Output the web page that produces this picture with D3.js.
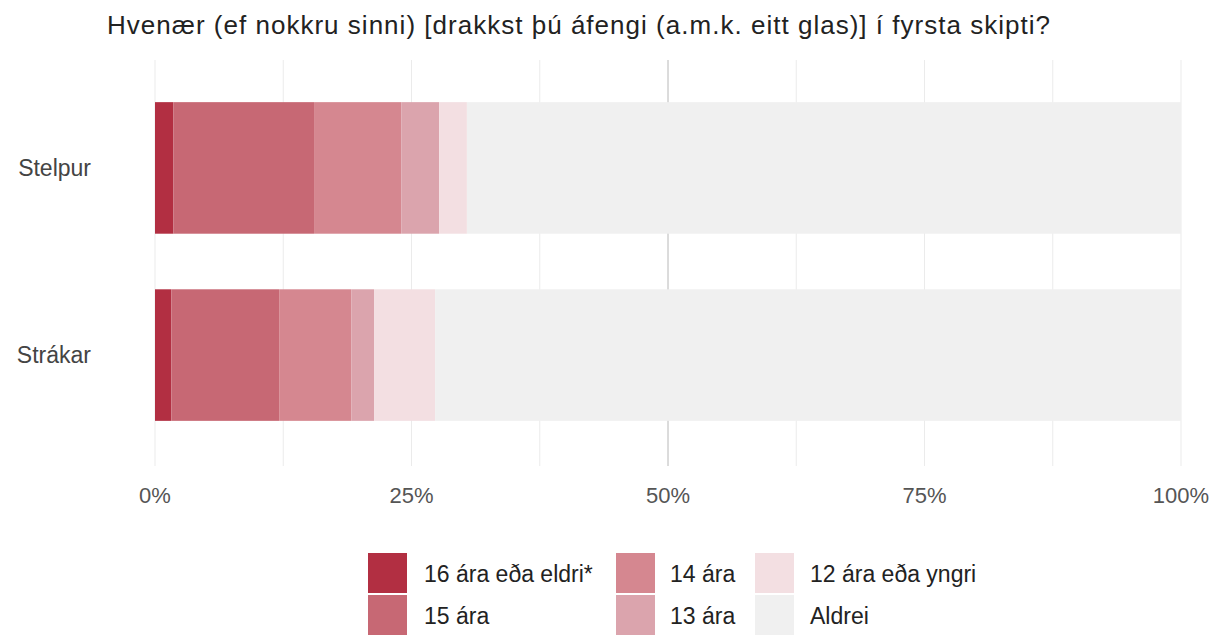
<!DOCTYPE html>
<html lang="is">
<head>
<meta charset="utf-8">
<script src="https://d3js.org/d3.v7.min.js"></script>
<style>
  body { margin: 0; background: #fff; }
  text { font-family: "Liberation Sans", Arial, sans-serif; }
</style>
</head>
<body>
<script>
// data (percent of each group)
var groups = ["Stelpur", "Strákar"];
var answers = ["16 ára eða eldri*", "15 ára", "14 ára", "13 ára", "12 ára eða yngri", "Aldrei"];
var stelpur = [1.8, 13.7, 8.5, 3.7, 2.7, 69.6];
var strakar = [1.6, 10.5, 7.05, 2.2, 5.95, 72.7];
var colors = ["#b22f42", "#c76874", "#d58790", "#dba4ad", "#f3dfe2", "#f0f0f0"];
var ticks = [0, 25, 50, 75, 100];

var title = "Hvenær (ef nokkru sinni) [drakkst þú áfengi (a.m.k. eitt glas)] í fyrsta skipti?";

var W = 1217, H = 637;
var svg = d3.select("body").append("svg")
    .attr("width", W)
    .attr("height", H);

var rows = groups.map(function(g, i) {
    var r = { group: g };
    var vals = i == 0 ? stelpur : strakar;
    answers.forEach(function(a, j) { r[a] = vals[j]; });
    return r;
});

var x = d3.scaleLinear().domain([0, 100]).range([155, 1181]);
var y = d3.scaleBand().domain(groups).range([46, 477]).paddingInner(0.297).paddingOuter(0.3);
var color = d3.scaleOrdinal().domain(answers).range(colors);

// grid
var minor = d3.range(12.5, 100, 25);
svg.append("g").selectAll("line")
    .data(minor.concat(ticks))
    .enter().append("line")
    .attr("x1", function(d) { return x(d); })
    .attr("x2", function(d) { return x(d); })
    .attr("y1", 60)
    .attr("y2", 466)
    .attr("stroke", function(d) { return d == 50 ? "#b8b8b8" : "#ebebeb"; })
    .attr("stroke-width", 1);

var stack = d3.stack().keys(answers)(rows);

svg.append("g").selectAll("g")
    .data(stack)
    .enter().append("g")
    .attr("fill", function(d) { return color(d.key); })
    .selectAll("rect")
    .data(function(d) { return d; })
    .enter().append("rect")
    .attr("x", function(d) { return x(d[0]); })
    .attr("width", function(d) { return x(d[1]) - x(d[0]); })
    .attr("y", function(d) { return y(d.data.group); })
    .attr("height", y.bandwidth());

// y labels
svg.append("g").selectAll("text")
    .data(groups)
    .enter().append("text")
    .attr("x", 91)
    .attr("y", function(d) { return y(d) + y.bandwidth() / 2; })
    .attr("dy", "0.36em")
    .attr("text-anchor", "end")
    .attr("font-size", 23)
    .attr("fill", "#444")
    .text(function(d) { return d; });

// x tick labels
svg.append("g").selectAll("text")
    .data(ticks)
    .enter().append("text")
    .attr("x", function(d) { return x(d); })
    .attr("y", 503)
    .attr("text-anchor", "middle")
    .attr("font-size", 22)
    .attr("fill", "#555")
    .text(function(d) { return d + "%"; });

// title
svg.append("text")
    .attr("x", 107)
    .attr("y", 34)
    .attr("font-size", 26)
    .attr("textLength", 943)
    .attr("lengthAdjust", "spacing")
    .attr("fill", "#222")
    .text(title);

// legend, column-major 2 rows
var colX = [368, 616, 755];
var textX = [424, 670, 810];
var leg = svg.append("g").selectAll("g")
    .data(answers)
    .enter().append("g")
    .attr("transform", function(d, i) {
        return "translate(" + colX[Math.floor(i / 2)] + "," + (553 + (i % 2) * 42) + ")";
    });

leg.append("rect")
    .attr("width", 39)
    .attr("height", 40)
    .attr("fill", function(d) { return color(d); });

leg.append("text")
    .attr("x", function(d, i) { return textX[Math.floor(i / 2)] - colX[Math.floor(i / 2)]; })
    .attr("y", 21)
    .attr("dy", "0.35em")
    .attr("font-size", 23)
    .attr("fill", "#222")
    .text(function(d) { return d; });
</script>
</body>
</html>
